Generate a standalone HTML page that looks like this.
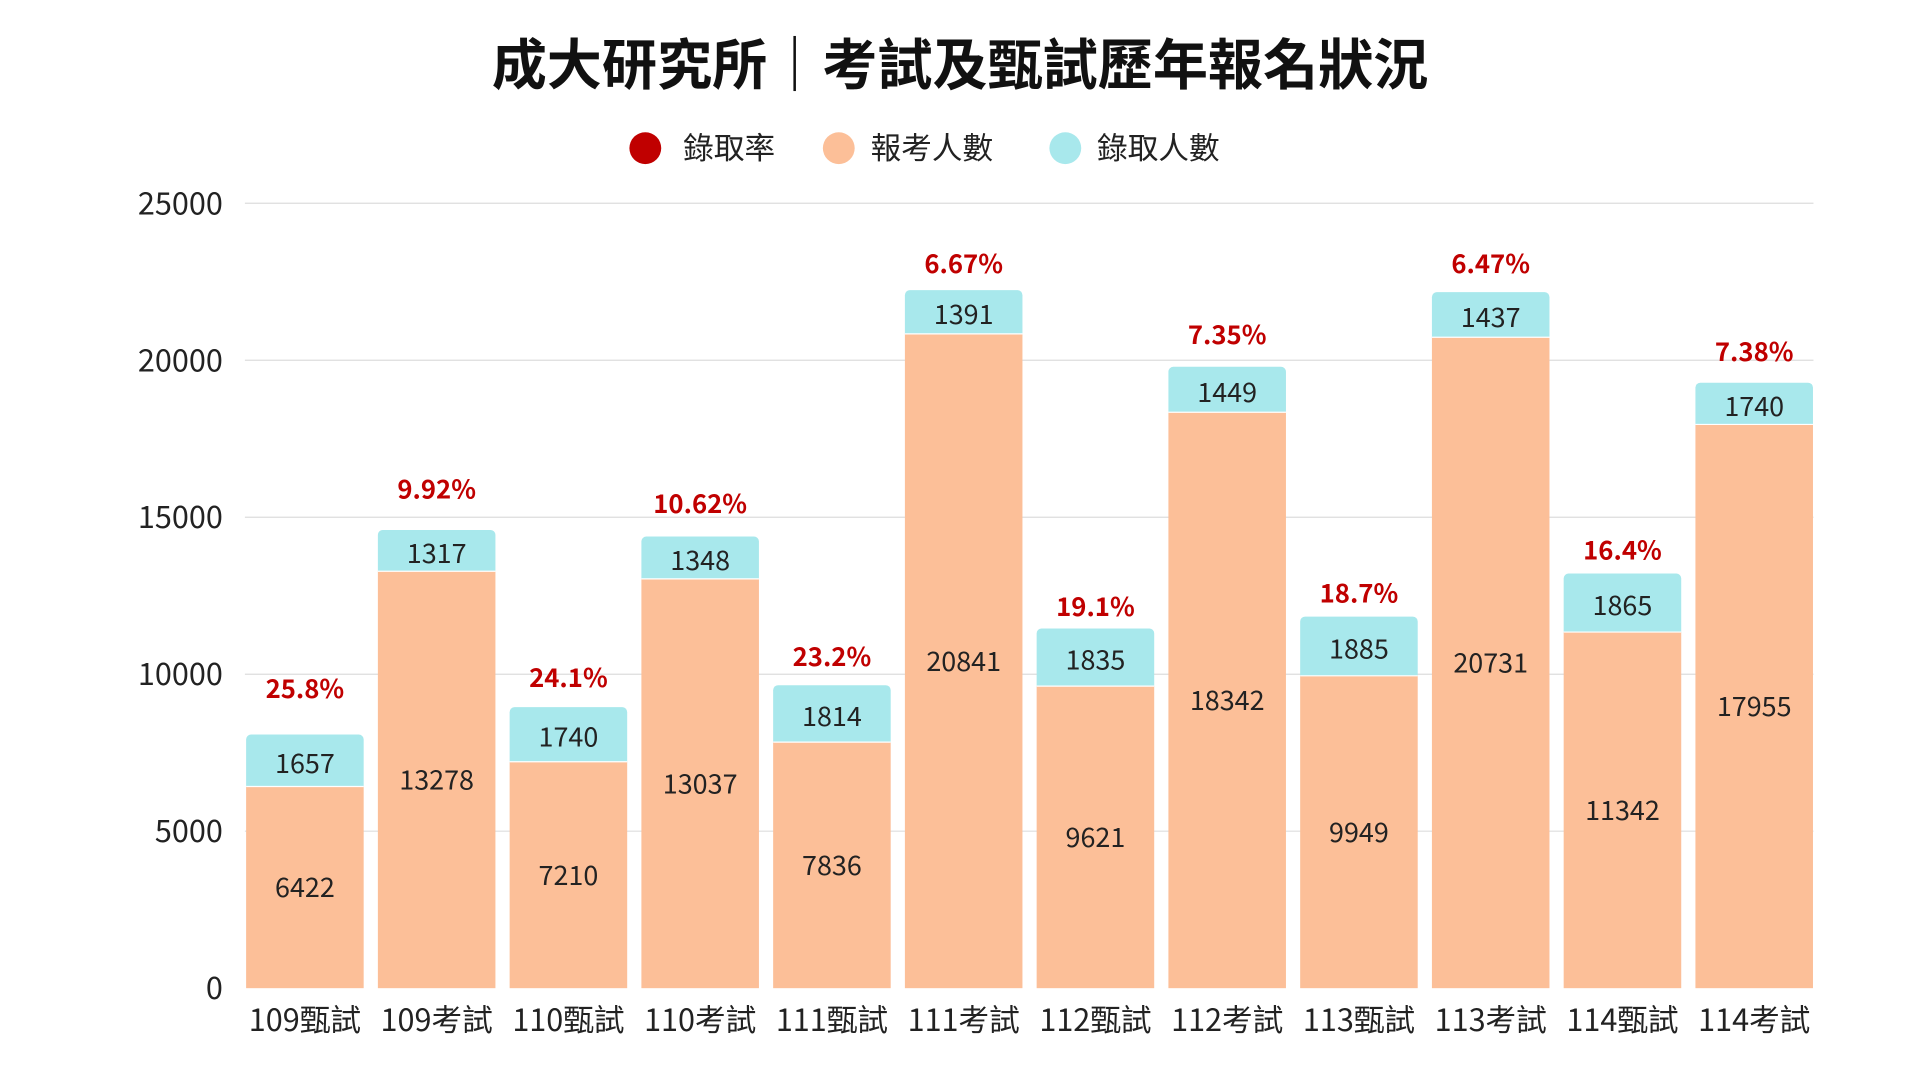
<!DOCTYPE html>
<html><head><meta charset="utf-8"><style>
html,body{margin:0;padding:0;background:#fff;width:1920px;height:1080px;overflow:hidden}
svg{display:block}
text{font-family:"Noto Sans CJK TC","Liberation Sans",sans-serif}
</style></head><body>
<svg id="c" width="1920" height="1080" viewBox="0 0 1568 882" preserveAspectRatio="none" xmlns="http://www.w3.org/2000/svg">
<text x="784" y="69" text-anchor="middle" font-size="45" font-weight="bold" fill="#111">成大研究所｜考試及甄試歷年報名狀況</text>
<circle cx="527" cy="121" r="13" fill="#c00000"/>
<text x="558" y="130" font-size="25" fill="#222">錄取率</text>
<circle cx="685" cy="121" r="13" fill="#fcbf98"/>
<text x="711" y="130" font-size="25" fill="#222">報考人數</text>
<circle cx="870" cy="121" r="13" fill="#a8e8ec"/>
<text x="896" y="130" font-size="25" fill="#222">錄取人數</text>
</svg>
<script>
const s=document.getElementById('c'),NS='http://www.w3.org/2000/svg';
function el(t,a,txt){const e=document.createElementNS(NS,t);for(const k in a)e.setAttribute(k,a[k]);if(txt!=null)e.textContent=txt;s.appendChild(e);return e;}
const Y=v=>807-v*0.02564;
for(let v=0;v<=25000;v+=5000){
 if(v>0)el('line',{x1:200,x2:1481,y1:Y(v),y2:Y(v),stroke:'#ddd','stroke-width':1});
 el('text',{x:182,y:Y(v)+9,'text-anchor':'end','font-size':25,fill:'#222'},v);
}
const d=[["109甄試",6422,1657,"25.8%",562],["109考試",13278,1317,"9.92%",399],["110甄試",7210,1740,"24.1%",553],["110考試",13037,1348,"10.62%",411],["111甄試",7836,1814,"23.2%",536],["111考試",20841,1391,"6.67%",215],["112甄試",9621,1835,"19.1%",495],["112考試",18342,1449,"7.35%",273],["113甄試",9949,1885,"18.7%",484],["113考試",20731,1437,"6.47%",215],["114甄試",11342,1865,"16.4%",449],["114考試",17955,1330,"7.38%",287]];
const lbl=[1657,1317,1740,1348,1814,1391,1835,1449,1885,1437,1865,1740];
d.forEach((r,i)=>{
 const x=201+i*107.6,w=96,cx=x+w/2;
 const yp=Y(r[1]),yt=Y(r[1]+r[2]);
 el('rect',{x:x,y:yt,width:w,height:yp-yt+4,rx:4,fill:'#a8e8ec'});
 el('rect',{x:x,y:yp,width:w,height:807-yp,fill:'#fcbf98'});
 el('line',{x1:x,x2:x+w,y1:yp,y2:yp,stroke:'#fff','stroke-width':1});
 el('text',{x:cx,y:(yp+807)/2+8,'text-anchor':'middle','font-size':22,fill:'#222'},r[1]);
 el('text',{x:cx,y:(yt+yp)/2+10,'text-anchor':'middle','font-size':22,fill:'#222'},lbl[i]);
 el('text',{x:cx,y:r[4]+8,'text-anchor':'middle','font-size':21,'font-weight':'bold',fill:'#c00000'},r[3]);
 el('text',{x:cx,y:842,'text-anchor':'middle','font-size':25,fill:'#222'},r[0]);
});
</script>
</body></html>
